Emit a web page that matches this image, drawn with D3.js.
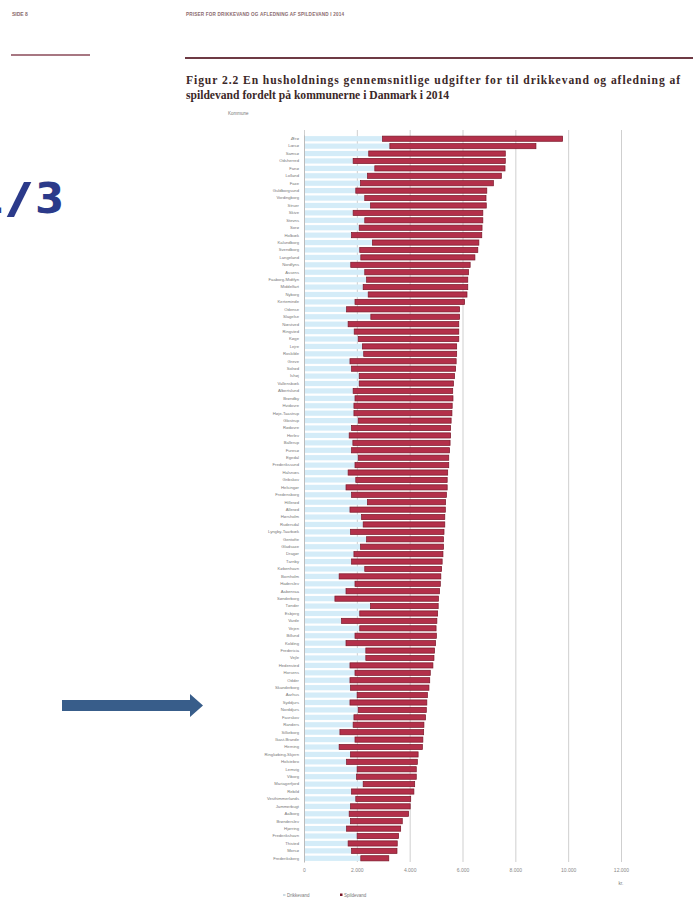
<!DOCTYPE html>
<html>
<head>
<meta charset="utf-8">
<script src="https://cdn.jsdelivr.net/npm/d3@7"></script>
<style>
  body { margin: 0; background: #fff; }
  svg { display: block; }
</style>
</head>
<body>
<script>
// kommuner, sorted by total cost (largest first)
const kommuner = ["Ærø","Læsø","Samsø","Odsherred","Fanø","Lolland","Faxe","Guldborgsund","Vordingborg","Struer",
  "Skive","Stevns","Sorø","Holbæk","Kalundborg","Svendborg","Langeland","Nordfyns","Assens","Faaborg-Midtfyn",
  "Middelfart","Nyborg","Kerteminde","Odense","Slagelse","Næstved","Ringsted","Køge","Lejre","Roskilde",
  "Greve","Solrød","Ishøj","Vallensbæk","Albertslund","Brøndby","Hvidovre","Høje-Taastrup","Glostrup","Rødovre",
  "Herlev","Ballerup","Furesø","Egedal","Frederikssund","Halsnæs","Gribskov","Helsingør","Fredensborg","Hillerød",
  "Allerød","Hørsholm","Rudersdal","Lyngby-Taarbæk","Gentofte","Gladsaxe","Dragør","Tårnby","København","Bornholm",
  "Haderslev","Aabenraa","Sønderborg","Tønder","Esbjerg","Varde","Vejen","Billund","Kolding","Fredericia",
  "Vejle","Hedensted","Horsens","Odder","Skanderborg","Aarhus","Syddjurs","Norddjurs","Favrskov","Randers",
  "Silkeborg","Ikast-Brande","Herning","Ringkøbing-Skjern","Holstebro","Lemvig","Viborg","Mariagerfjord","Rebild","Vesthimmerlands",
  "Jammerbugt","Aalborg","Brønderslev","Hjørring","Frederikshavn","Thisted","Morsø","Frederiksberg"];

// kr. per husholdning
const drikkevand = [2970,3250,2450,1860,2680,2400,2140,1960,2300,2520,
  1860,2300,2090,1800,2590,2110,2150,1770,2300,2370,
  2240,2430,1930,1610,2530,1670,1900,2050,2210,2260,
  1740,1800,2090,2090,1860,1930,1890,1890,2050,1800,
  1710,1850,1800,2050,1930,1670,1960,1590,1800,2400,
  1740,2180,2240,1760,2370,2140,1890,1800,2300,1330,
  1930,1590,1170,2520,2110,1420,2110,1930,1590,2340,
  2340,1740,1930,1740,1760,2010,1740,2050,1890,1860,
  1360,1930,1330,1760,1610,2010,1990,2240,1800,1960,
  1760,1710,1760,1610,2010,1670,1800,2150];

const spildevand = [6820,5530,5170,5760,4930,5070,5030,4960,4590,4380,
  4910,4470,4650,4930,4030,4470,4320,4520,3930,3830,
  3960,3740,4150,4280,3360,4190,3960,3810,3570,3520,
  4020,3940,3610,3570,3770,3710,3720,3710,3520,3750,
  3840,3680,3710,3430,3550,3770,3460,3830,3590,2960,
  3610,3150,3090,3540,2910,3140,3370,3430,2910,3850,
  3230,3540,3920,2560,2950,3610,2890,3080,3390,2600,
  2580,3140,2850,3020,2970,2660,2910,2580,2710,2680,
  3170,2570,3150,2560,2680,2240,2260,1950,2360,2080,
  2260,2250,1960,2050,1570,1860,1720,1060];

const serier = ["Drikkevand", "Spildevand"];
const xTicks = [0, 2000, 4000, 6000, 8000, 10000, 12000];

const width = 693, height = 901;
const svg = d3.select('body').append('svg')
    .attr('width', width)
    .attr('height', height)
    .style('font-family', 'Liberation Sans, Arial, sans-serif');

// ---- page furniture (report page around the figure) ----
svg.append('text')
  .attr('x', 12).attr('y', 16)
  .style('font-size', '5px').style('font-weight', 'bold').style('fill', '#8a6a6e')
  .text('SIDE 8');

svg.append('text')
  .attr('x', 186).attr('y', 16)
  .attr('textLength', 158)
  .style('font-size', '4.6px').style('font-weight', 'bold').style('fill', '#8a6a6e')
  .text('PRISER FOR DRIKKEVAND OG AFLEDNING AF SPILDEVAND I 2014');

svg.append('line')
  .attr('x1', 11).attr('x2', 90).attr('y1', 55).attr('y2', 55)
  .style('stroke', '#8a4a58').style('stroke-width', 1.3);

svg.append('line')
  .attr('x1', 185).attr('x2', 693).attr('y1', 58).attr('y2', 58)
  .style('stroke', '#6e3a44').style('stroke-width', 2);

const title = svg.append('text')
  .style('font-family', 'Liberation Serif, Times New Roman, serif')
  .style('font-weight', 'bold')
  .style('font-size', '11.6px')
  .style('fill', '#3b2828');
title.append('tspan').attr('x', 186).attr('y', 84).attr('textLength', 494)
  .text('Figur 2.2 En husholdnings gennemsnitlige udgifter for til drikkevand og afledning af');
title.append('tspan').attr('x', 186).attr('y', 99)
  .text('spildevand fordelt på kommunerne i Danmark i 2014');

// "1/3" slide number, mostly cut at the left edge like the reference
const slide = svg.append('g')
  .style('font-family', 'DejaVu Sans, Verdana, sans-serif')
  .style('font-weight', 'bold')
  .style('font-size', '42px')
  .style('fill', '#2b3a8a');
slide.append('text').attr('x', 4).attr('y', 213).attr('text-anchor', 'end').text('1');
slide.append('text').attr('transform', 'translate(19,213) scale(1.6,1)').attr('text-anchor', 'middle').text('/');
slide.append('text').attr('x', 35).attr('y', 213).text('3');

// arrow pointing at the chart
svg.append('path')
  .attr('d', 'M62,700 H190 V694 L203,705.5 L190,717 V711 H62 Z')
  .style('fill', '#385d8a');

// ---- chart ----
const x = d3.scaleLinear().domain([0, 12000]).range([304, 621]);
const y = d3.scaleBand().domain(kommuner).range([135, 862]).paddingInner(0.3).paddingOuter(0.15);
const color = d3.scaleOrdinal().domain(serier).range(['#d4ecf8', '#b3304a']);

const rows = kommuner.map((k, i) => ({kommune: k, Drikkevand: drikkevand[i], Spildevand: spildevand[i]}));
const stacked = d3.stack().keys(serier)(rows);

svg.append('text')
  .attr('x', 228).attr('y', 115)
  .style('font-size', '4.5px').style('fill', '#777')
  .text('Kommune');

// gridlines + tick labels
const xAxis = svg.append('g')
  .attr('transform', 'translate(0,862)')
  .call(d3.axisBottom(x)
    .tickValues(xTicks)
    .tickSize(-732)
    .tickPadding(6)
    .tickFormat(d => d === 0 ? '0' : d3.format(',')(d).replace(/,/g, '.')));
xAxis.select('.domain').remove();
xAxis.selectAll('line').style('stroke', '#cfcfcf').style('stroke-width', 1);
xAxis.selectAll('text').style('font-size', '5px').style('fill', '#888').style('font-family', 'Liberation Sans, Arial, sans-serif');

svg.append('text')
  .attr('x', 621).attr('y', 885)
  .attr('text-anchor', 'middle')
  .style('font-size', '4.5px').style('fill', '#777')
  .text('kr.');

// bars
svg.append('g').selectAll('g')
  .data(stacked).enter().append('g')
  .style('fill', (d) => color(d.key))
  .style('stroke', (d) => d.key === 'Spildevand' ? '#7a1628' : 'none')
  .style('stroke-width', 0.7)
  .selectAll('rect')
  .data((d) => d).enter().append('rect')
    .attr('x', (d) => x(d[0]))
    .attr('y', (d) => y(d.data.kommune))
    .attr('width', (d) => x(d[1]) - x(d[0]))
    .attr('height', y.bandwidth());

// category axis
const yAxis = svg.append('g')
  .attr('transform', 'translate(304,0)')
  .call(d3.axisLeft(y).tickSize(0).tickPadding(5));
yAxis.select('.domain').style('stroke', '#bbb');
yAxis.selectAll('text').style('font-size', '4.2px').style('fill', '#777').style('font-family', 'Liberation Sans, Arial, sans-serif');

// legend
const legend = svg.append('g')
  .selectAll('g')
  .data(serier).enter().append('g')
  .attr('transform', (d, i) => 'translate(' + (283 + i * 57) + ',896)');
legend.append('rect')
  .attr('x', 0)
  .attr('y', (d) => d === 'Drikkevand' ? -1.5 : -2.5)
  .attr('width', 2.5)
  .attr('height', (d) => d === 'Drikkevand' ? 1 : 2.5)
  .style('fill', (d) => d === 'Drikkevand' ? '#9bb8c8' : '#7a1628');
legend.append('text')
  .attr('x', 4).attr('y', 1)
  .style('font-size', '4.5px').style('fill', '#777')
  .text((d) => d);
</script>
</body>
</html>
